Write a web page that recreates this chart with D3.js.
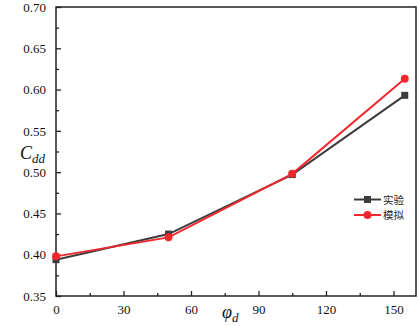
<!DOCTYPE html>
<html>
<head>
<meta charset="utf-8">
<script src="https://cdn.jsdelivr.net/npm/d3@7"></script>
<style>
  body { margin: 0; background: #fff; }
  svg { display: block; }
</style>
</head>
<body>
<svg id="chart" width="419" height="326"></svg>
<script>
const xValues = [0, 50, 105, 155]
const expValues = [0.394, 0.425, 0.497, 0.593]
const simValues = [0.398, 0.421, 0.498, 0.613]
const seriesNames = ["实验", "模拟"]
const xTicks = [0, 30, 60, 90, 120, 150]
const yTicks = [0.35, 0.40, 0.45, 0.50, 0.55, 0.60, 0.65, 0.70]

const svg = d3.select("#chart")
const margin = {left: 56, right: 3, top: 7, bottom: 30}
const W = 419, H = 326

const x = d3.scaleLinear().domain([0, 160]).range([margin.left, W - margin.right])
const y = d3.scaleLinear().domain([0.35, 0.70]).range([H - margin.bottom, margin.top])

const serif = "'Liberation Serif', 'Times New Roman', serif"
const axisColor = "#222"

// frame
svg.append("rect")
  .attr("x", x(0)).attr("y", y(0.70))
  .attr("width", x(160) - x(0)).attr("height", y(0.35) - y(0.70))
  .attr("fill", "none").attr("stroke", axisColor).attr("stroke-width", 1.5)

// x axis, ticks inward
const xAxis = svg.append("g").attr("transform", `translate(0,${y(0.35)})`)
  .call(d3.axisBottom(x).tickValues(xTicks).tickSize(-5).tickPadding(9).tickFormat(d3.format("d")))
xAxis.call(g => g.select(".domain").remove())
xAxis.selectAll("line").attr("stroke", axisColor).attr("stroke-width", 1.3)
xAxis.selectAll("text").style("font-family", serif).style("font-size", "13px").attr("fill", "#111")
svg.append("g").attr("transform", `translate(0,${y(0.35)})`)
  .call(d3.axisBottom(x).tickValues(d3.range(15, 160, 30)).tickSize(-3).tickFormat(""))
  .call(g => g.select(".domain").remove())
  .selectAll("line").attr("stroke", axisColor).attr("stroke-width", 1.3)

// y axis
const yAxis = svg.append("g").attr("transform", `translate(${x(0)},0)`)
  .call(d3.axisLeft(y).tickValues(yTicks).tickSize(-5).tickPadding(10).tickFormat(d3.format(".2f")))
yAxis.call(g => g.select(".domain").remove())
yAxis.selectAll("line").attr("stroke", axisColor).attr("stroke-width", 1.3)
yAxis.selectAll("text").style("font-family", serif).style("font-size", "13px").attr("fill", "#111")
svg.append("g").attr("transform", `translate(${x(0)},0)`)
  .call(d3.axisLeft(y).tickValues(d3.range(0.375, 0.70, 0.05)).tickSize(-3).tickFormat(""))
  .call(g => g.select(".domain").remove())
  .selectAll("line").attr("stroke", axisColor).attr("stroke-width", 1.3)

// axis titles
const xt = svg.append("text").attr("x", 222).attr("y", 318)
  .style("font-family", serif).style("font-style", "italic").style("font-size", "18px").attr("fill", "#111")
xt.append("tspan").text("φ")
xt.append("tspan").attr("dy", 4).style("font-size", "13px").text("d")

const yt = svg.append("text").attr("x", 20).attr("y", 159)
  .style("font-family", serif).style("font-style", "italic").style("font-size", "18px").attr("fill", "#111")
yt.append("tspan").text("C")
yt.append("tspan").attr("dy", 4).style("font-size", "13px").text("dd")

const series = [
  {name: seriesNames[0], values: expValues, color: "#3c3c3c", shape: "square"},
  {name: seriesNames[1], values: simValues, color: "#f0282d", shape: "circle"}
]

const line = d3.line().x(d => x(d[0])).y(d => y(d[1]))

series.forEach(s => {
  const pts = xValues.map((v, i) => [v, s.values[i]])
  svg.append("path").datum(pts).attr("d", line)
    .attr("fill", "none").attr("stroke", s.color).attr("stroke-width", 2)
  drawMarker(svg, pts.map(p => [x(p[0]), y(p[1])]), s)
})

function drawMarker(g, pts, s) {
  if (s.shape === "square") {
    g.selectAll(null).data(pts).enter().append("rect")
      .attr("x", d => d[0] - 3.5).attr("y", d => d[1] - 3.5)
      .attr("width", 7).attr("height", 7).attr("fill", s.color)
  } else {
    g.selectAll(null).data(pts).enter().append("circle")
      .attr("cx", d => d[0]).attr("cy", d => d[1]).attr("r", 4).attr("fill", s.color)
  }
}

// legend
const legend = svg.append("g").attr("transform", "translate(354,199.5)")
series.forEach((s, i) => {
  const gy = i * 15.5
  legend.append("line").attr("x1", 0).attr("x2", 27).attr("y1", gy).attr("y2", gy)
    .attr("stroke", s.color).attr("stroke-width", 2)
  drawMarker(legend, [[13.5, gy]], s)
  legend.append("text").attr("x", 29).attr("y", gy + 4)
    .style("font-family", "'Noto Sans CJK SC', sans-serif").style("font-size", "10.5px").attr("fill", "#222")
    .text(s.name)
})
</script>
</body>
</html>
